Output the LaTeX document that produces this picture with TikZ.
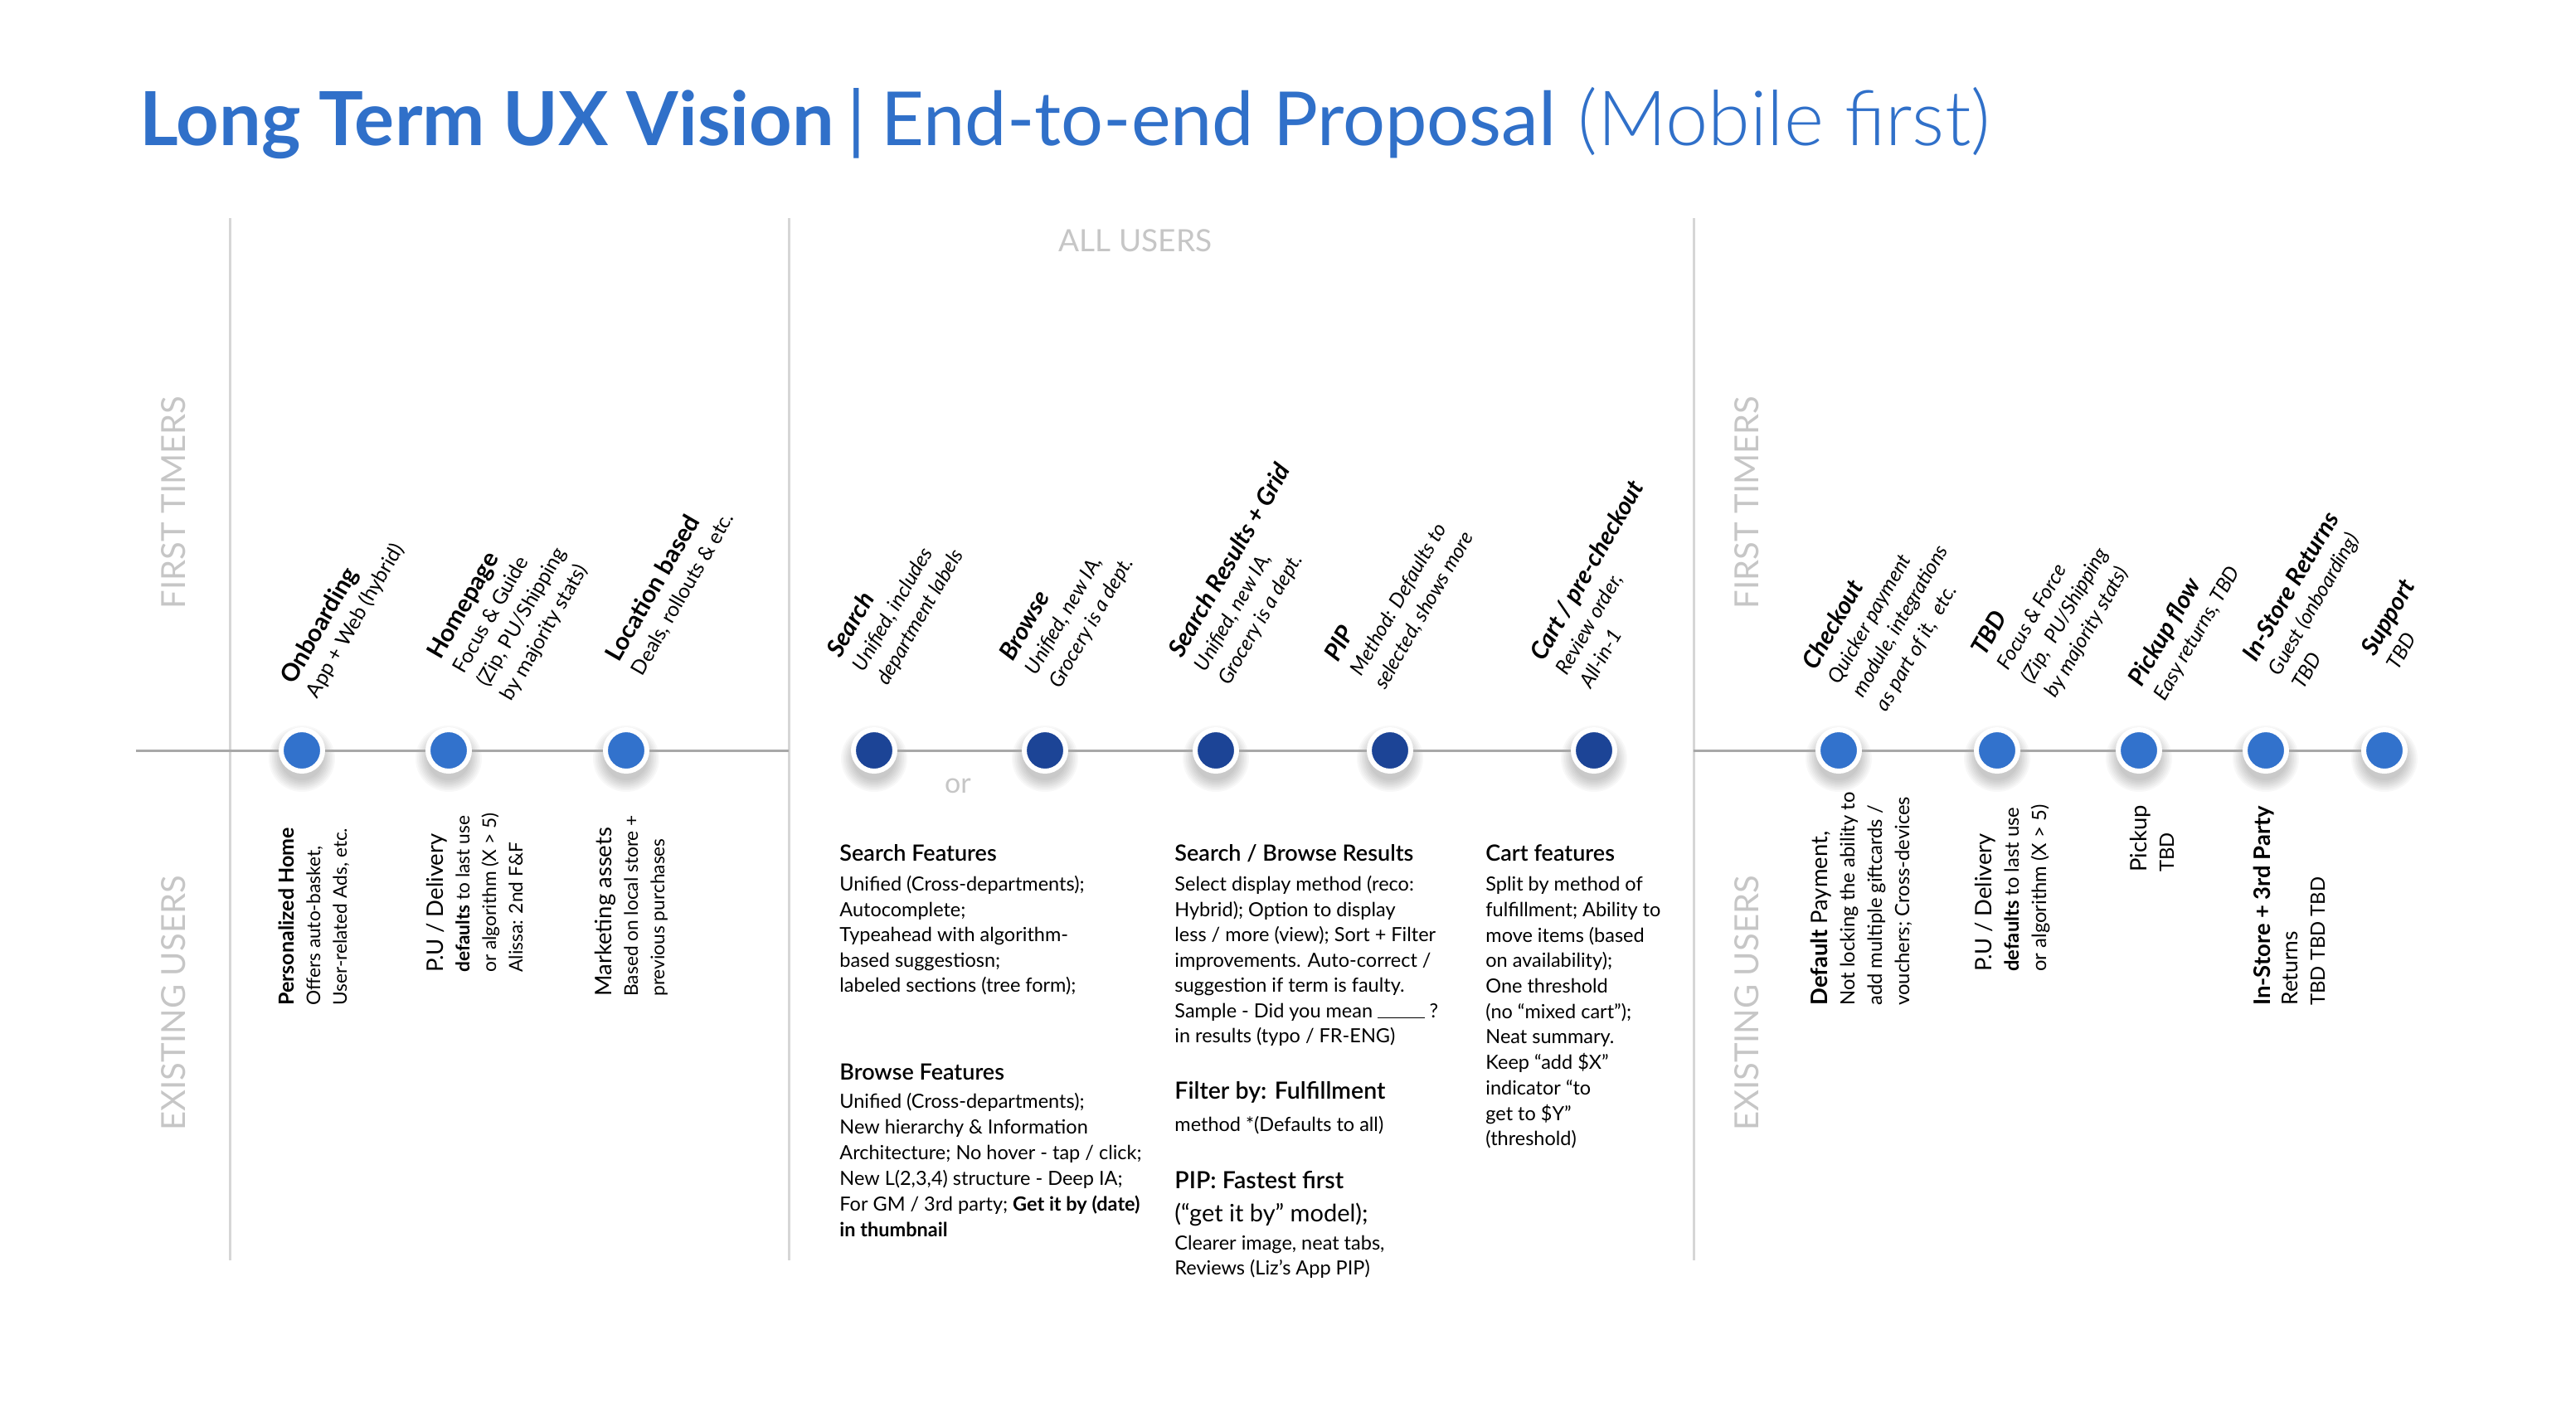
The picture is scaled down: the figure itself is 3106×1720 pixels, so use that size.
\documentclass[tikz,border=0pt]{standalone}
\usepackage{fontspec}
\setmainfont{Lato}
\newfontfamily\latolight{Lato Light}
\newfontfamily\latosemi{Lato Semibold}
\definecolor{titleblue}{RGB}{48,112,201}
\definecolor{nodeblue}{RGB}{50,114,204}
\definecolor{darkblue}{RGB}{28,68,150}
\definecolor{hgray}{RGB}{168,168,168}
\definecolor{vgray}{RGB}{214,214,214}
\definecolor{lgray}{RGB}{198,198,198}
\newcommand\fs[1]{\fontsize{#1}{#1}\selectfont}
\newcommand\blk[2]{\vtop{\baselineskip=#1\relax\lineskiplimit=-100pt\relax\lineskip=0pt\relax\halign{##\hfil\cr#2\crcr}}}
\newcommand\shadowdot[2]{\foreach \rr in {26,28,...,40}{\fill[black,opacity=0.028] (#1,#2+10) circle[radius=\rr];}}
\newcommand\hdA{\bfseries\fs{14.75pt}}
\newcommand\hdB{\fs{13.75pt}}
\tikzset{
  toplbl/.style={rotate=60, anchor=base west, inner sep=0pt, font=\fs{12.25pt}},
  topit/.style={toplbl, font=\fs{12.25pt}\itshape},
  botlbl/.style={rotate=90, anchor=base west, inner sep=0pt, font=\fs{11.35pt}},
  botr/.style={rotate=90, anchor=base west, inner sep=0pt, font=\fs{11.9pt}},
  feat/.style={anchor=base west, inner sep=0pt, font=\fs{11.75pt}},
  dotA/.style={circle, fill=nodeblue, draw=white, line width=3pt, minimum size=25pt, inner sep=0pt},
  dotB/.style={dotA, fill=darkblue},
  hline/.style={draw=hgray, line width=1.5pt},
  vline/.style={draw=vgray, line width=1.5pt},
  sect/.style={text=lgray, font=\fs{20pt}, inner sep=0pt, rotate=90, anchor=center},
}
\begin{document}
\begin{tikzpicture}[x=0.5pt,y=-0.5pt]
\useasboundingbox (0,0) rectangle (3106,1720);
\fill[white] (0,0) rectangle (3106,1720);

% title
\node[anchor=base west, inner sep=0pt, text=titleblue, font=\fs{45pt}] (title) at (168,175)
  {{\bfseries Long Term UX Vision}\hspace{8pt}|\hspace{9pt}End-to-end Proposal\hspace{13pt}{\latolight\fs{46pt}(Mobile first)}};

% section dividers
\coordinate (v1t) at (277,263); \coordinate (v1b) at (277,1520);
\coordinate (v2t) at (951,263); \coordinate (v2b) at (951,1520);
\coordinate (v3t) at (2042,263); \coordinate (v3b) at (2042,1520);
\draw[vline] (v1t) -- (v1b);
\draw[vline] (v2t) -- (v2b);
\draw[vline] (v3t) -- (v3b);

\node[text=lgray, font=\fs{18.5pt}, inner sep=0pt] (allusers) at (1369,290) {ALL USERS};
\node[sect] (ft1) at (209,606) {FIRST TIMERS};
\node[sect] (eu1) at (209,1210) {EXISTING USERS};
\node[sect] (ft2) at (2106,606) {FIRST TIMERS};
\node[sect] (eu2) at (2106,1210) {EXISTING USERS};

% dots
\shadowdot{364}{905}\node[dotA] (on) at (364,905) {};
\shadowdot{541}{905}\node[dotA] (hp) at (541,905) {};
\shadowdot{755}{905}\node[dotA] (loc) at (755,905) {};
\shadowdot{1054}{905}\node[dotB] (srch) at (1054,905) {};
\shadowdot{1260}{905}\node[dotB] (brw) at (1260,905) {};
\shadowdot{1466}{905}\node[dotB] (sres) at (1466,905) {};
\shadowdot{1676}{905}\node[dotB] (pip) at (1676,905) {};
\shadowdot{1922}{905}\node[dotB] (cart) at (1922,905) {};
\shadowdot{2217}{905}\node[dotA] (chk) at (2217,905) {};
\shadowdot{2408}{905}\node[dotA] (tbd) at (2408,905) {};
\shadowdot{2579}{905}\node[dotA] (pick) at (2579,905) {};
\shadowdot{2732}{905}\node[dotA] (isr) at (2732,905) {};
\shadowdot{2875}{905}\node[dotA] (sup) at (2875,905) {};

% timeline connectors
\coordinate (lstart) at (164,905);
\coordinate (lend) at (951,905);
\coordinate (rstart) at (2042,905);
\draw[hline] (lstart) -- (on);
\draw[hline] (on) -- (hp);
\draw[hline] (hp) -- (loc);
\draw[hline] (loc) -- (lend);
\draw[hline] (srch) -- (brw);
\draw[hline] (brw) -- (sres);
\draw[hline] (sres) -- (pip);
\draw[hline] (pip) -- (cart);
\draw[hline] (rstart) -- (chk);
\draw[hline] (chk) -- (tbd);
\draw[hline] (tbd) -- (pick);
\draw[hline] (pick) -- (isr);
\draw[hline] (isr) -- (sup);

\node[text=lgray, font=\fs{17pt}, inner sep=0pt] (or) at (1155,948) {or};

% top labels, left section
\node[toplbl] (t-on) at (354,827) {\blk{16.5pt}{{\hdA Onboarding}\cr App + Web (hybrid)}};
\node[toplbl] (t-hp) at (531,797) {\blk{16.5pt}{{\hdA Homepage}\cr Focus \& Guide\cr (Zip, PU/Shipping\cr by majority stats)}};
\node[toplbl] (t-loc) at (746,800) {\blk{16.5pt}{{\hdA Location based}\cr Deals, rollouts \& etc.}};

% top labels, middle section
\node[topit] (t-srch) at (1013,795) {\blk{16.5pt}{{\hdA Search}\cr Unified, includes\cr department labels}};
\node[topit] (t-brw) at (1221,799) {\blk{16.5pt}{{\hdA Browse}\cr Unified, new IA,\cr Grocery is a dept.}};
\node[topit] (t-sres) at (1425,795) {\blk{16.5pt}{{\hdA Search Results + Grid}\cr Unified, new IA,\cr Grocery is a dept.}};
\node[topit] (t-pip) at (1613,800) {\blk{16.5pt}{{\hdA PIP}\cr Method: Defaults to\cr selected, shows more}};
\node[topit] (t-cart) at (1861,799) {\blk{16.5pt}{{\hdA Cart / pre-checkout}\cr Review order,\cr All-in-1}};

% top labels, right section
\node[topit] (t-chk) at (2189,810) {\blk{16.5pt}{{\hdA Checkout}\cr Quicker payment\cr module, integrations\cr as part of it,\ \ etc.}};
\node[topit] (t-tbd) at (2393,793) {\blk{16.5pt}{{\hdA TBD}\cr Focus \& Force\cr (Zip,\ \ PU/Shipping\cr by majority stats)}};
\node[topit] (t-pick) at (2582,830) {\blk{16.5pt}{{\hdA Pickup flow}\cr Easy returns, TBD}};
\node[topit] (t-isr) at (2720,800) {\blk{16.5pt}{{\hdA In-Store Returns}\cr Guest (onboarding)\cr TBD}};
\node[topit] (t-sup) at (2863,793) {\blk{16.5pt}{{\hdA Support}\cr TBD}};

% bottom labels, left section
\node[botlbl] (b-on) at (354,1213) {\blk{16pt}{{\bfseries\fs{12.5pt}Personalized Home}\cr Offers auto-basket,\cr User-related Ads, etc.}};
\node[botlbl] (b-hp) at (534,1173) {\blk{16pt}{{\hdB P.U / Delivery}\cr {\bfseries defaults} to last use\cr or algorithm (X > 5)\cr Alissa: 2nd F\&F}};
\node[botlbl] (b-loc) at (737,1202) {\blk{16pt}{{\hdB Marketing assets}\cr Based on local store +\cr previous purchases}};

% bottom labels, right section
\node[botr] (b-chk) at (2203,1213) {\blk{16.5pt}{{\fs{13.7pt}{\bfseries Default} Payment,}\cr Not locking the ability to\cr add multiple giftcards /\cr vouchers; Cross-devices}};
\node[botr] (b-tbd) at (2401,1172) {\blk{16.5pt}{{\fs{13.7pt}P.U / Delivery}\cr {\bfseries defaults} to last use\cr or algorithm (X > 5)}};
\node[botr] (b-pick) at (2588,1052) {\blk{16.5pt}{{\fs{13.7pt}Pickup}\cr TBD}};
\node[botr] (b-isr) at (2737,1213) {\blk{16.5pt}{{\fs{13.7pt}\bfseries In-Store + 3rd Party}\cr {\fs{13.2pt}Returns}\cr TBD TBD TBD}};

% feature blocks
\node[feat] (f-search) at (1012,1038) {\blk{15.25pt}{{\latosemi\fs{13.5pt}Search Features}\cr\noalign{\vskip3pt}
  Unified (Cross-departments);\cr Autocomplete;\cr Typeahead with algorithm-\cr based suggestiosn;\cr labeled sections (tree form);}};
\node[feat] (f-browse) at (1012,1302) {\blk{15.5pt}{{\latosemi\fs{13.5pt}Browse Features}\cr\noalign{\vskip1.5pt}
  Unified (Cross-departments);\cr New hierarchy \& Information\cr Architecture; No hover - tap / click;\cr New L(2,3,4) structure - Deep IA;\cr For GM / 3rd party; {\bfseries Get it by (date)}\cr {\bfseries in thumbnail}}};
\node[feat] (f-results) at (1416,1038) {\blk{15.25pt}{{\latosemi\fs{13.5pt}Search / Browse Results}\cr\noalign{\vskip3pt}
  Select display method (reco:\cr Hybrid); Option to display\cr less / more (view); Sort + Filter\cr improvements. Auto-correct /\cr suggestion if term is faulty.\cr Sample - Did you mean \rule[-0.5pt]{2.4em}{0.6pt} ?\cr in results (typo / FR-ENG)}};
\node[feat] (f-filter) at (1416,1325) {\blk{15.25pt}{{\latosemi\fs{14.25pt}Filter by: Fulfillment}\cr\noalign{\vskip4.25pt}
  method *(Defaults to all)}};
\node[feat] (f-pip) at (1416,1433) {\blk{15.25pt}{{\latosemi\fs{14.25pt}PIP: Fastest first}\cr\noalign{\vskip4.75pt}
  {\fs{14.5pt}(“get it by” model);}\cr\noalign{\vskip1.75pt} Clearer image, neat tabs,\cr Reviews (Liz’s App PIP)}};
\node[feat] (f-cart) at (1791,1038) {\blk{15.35pt}{{\latosemi\fs{13.5pt}Cart features}\cr\noalign{\vskip3pt}
  Split by method of\cr fulfillment; Ability to\cr move items (based\cr on availability);\cr One threshold\cr (no “mixed cart”);\cr Neat summary.\cr Keep “add \$X”\cr indicator “to\cr get to \$Y”\cr (threshold)}};
\end{tikzpicture}
\end{document}
